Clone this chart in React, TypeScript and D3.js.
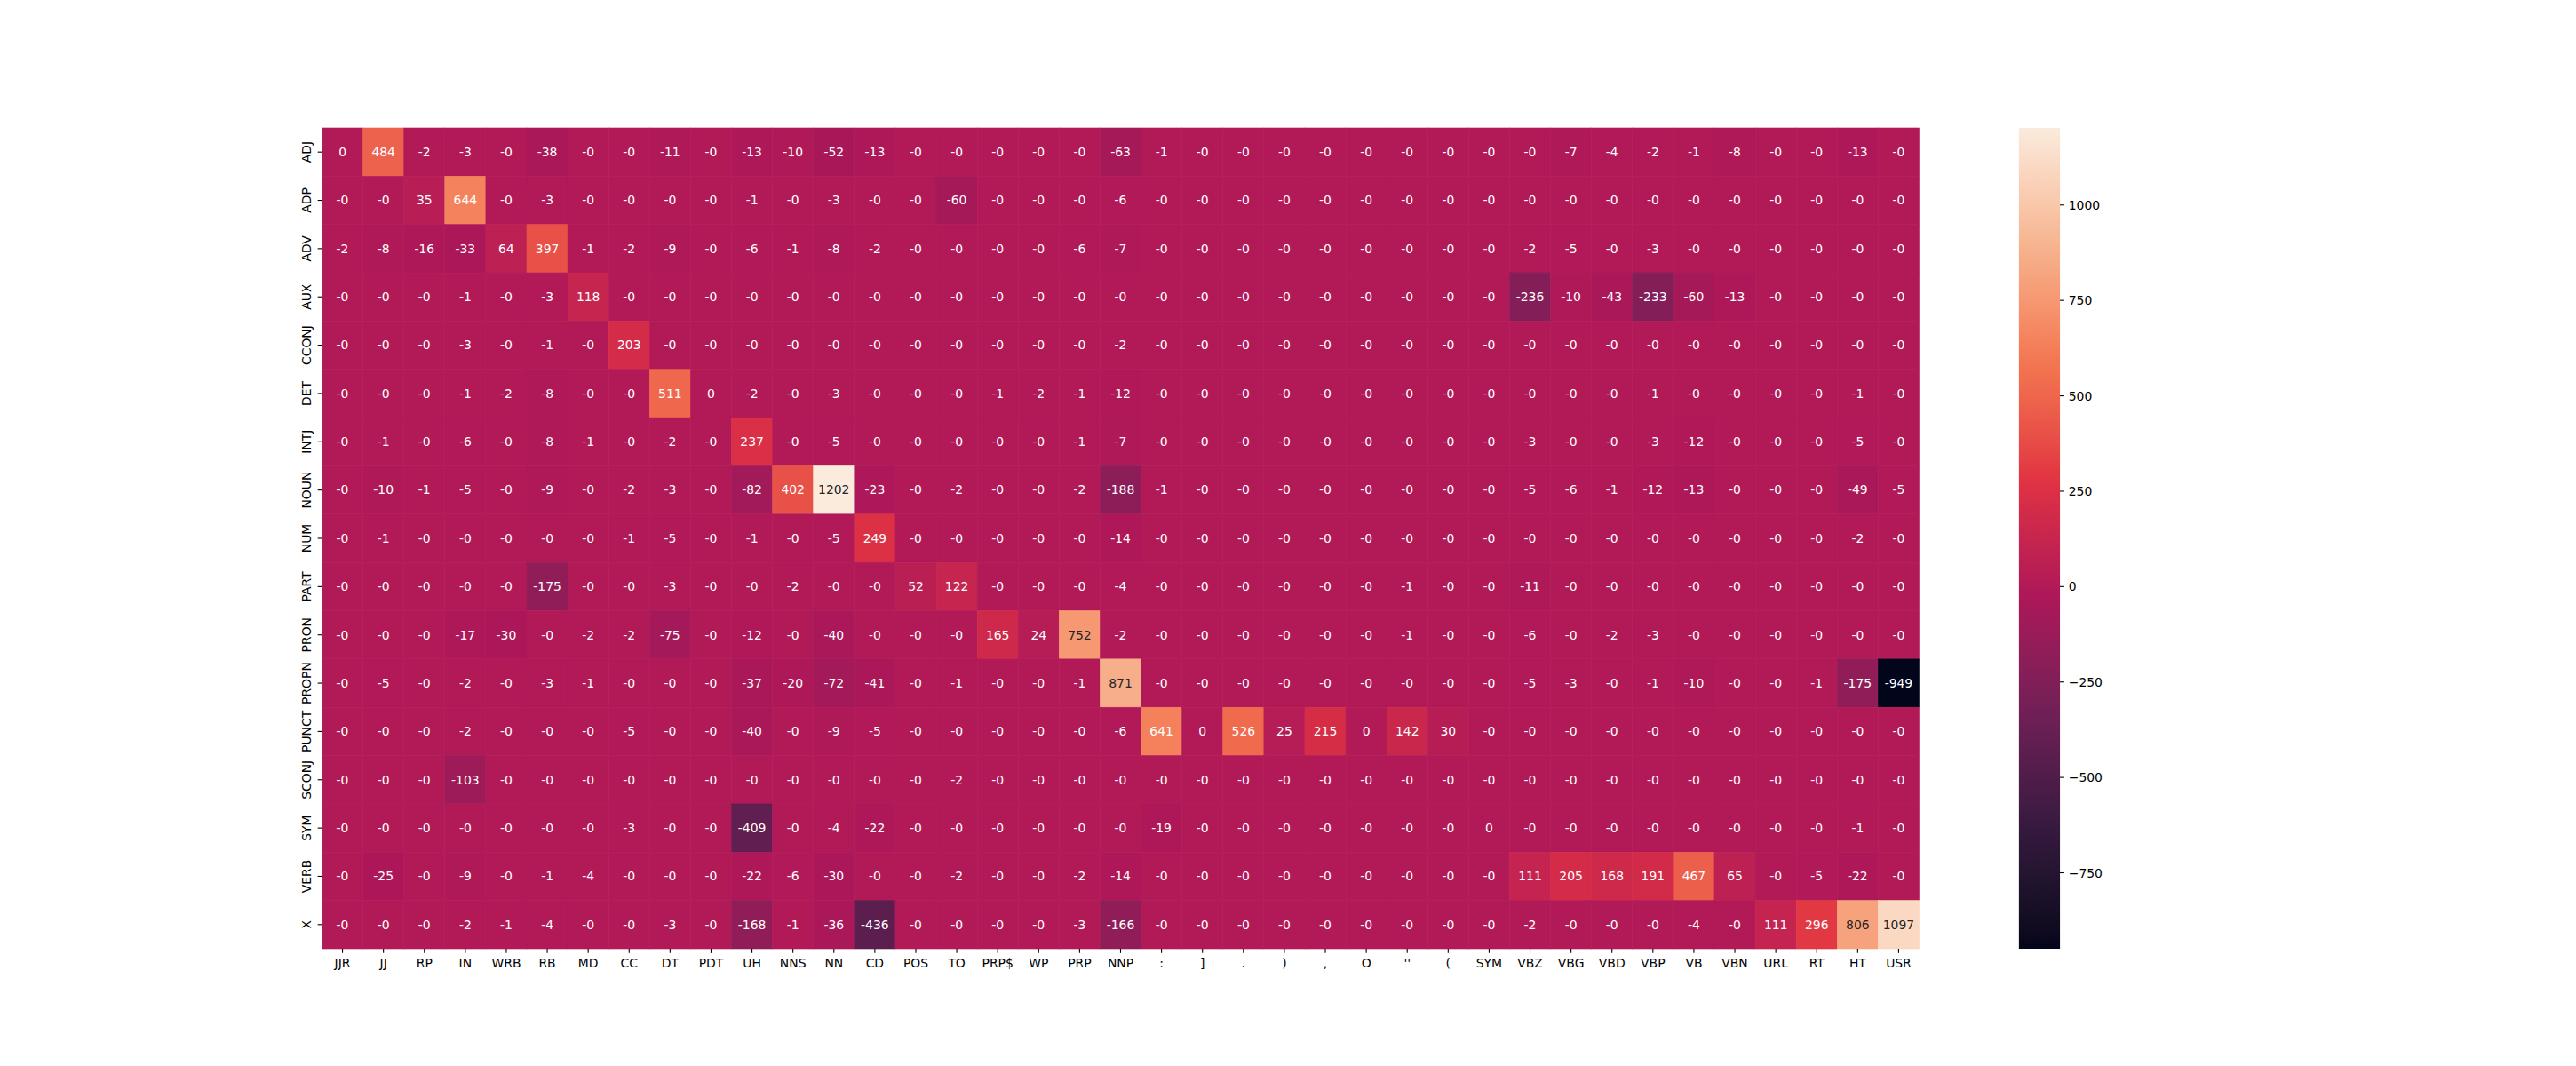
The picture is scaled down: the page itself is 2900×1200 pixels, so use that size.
import React from "react";
import * as d3 from "d3";

const rowLabels = ["ADJ", "ADP", "ADV", "AUX", "CCONJ", "DET", "INTJ", "NOUN", "NUM", "PART", "PRON", "PROPN", "PUNCT", "SCONJ", "SYM", "VERB", "X"];
const colLabels = ["JJR", "JJ", "RP", "IN", "WRB", "RB", "MD", "CC", "DT", "PDT", "UH", "NNS", "NN", "CD", "POS", "TO", "PRP$", "WP", "PRP", "NNP", ":", "]", ".", ")", ",", "O", "''", "(", "SYM", "VBZ", "VBG", "VBD", "VBP", "VB", "VBN", "URL", "RT", "HT", "USR"];

// z: a small negative value shown as "-0"
const z = -0.1;

const ADJ = [0, 484, -2, -3, z, -38, z, z, -11, z, -13, -10, -52, -13, z, z, z, z, z, -63, -1, z, z, z, z, z, z, z, z, z, -7, -4, -2, -1, -8, z, z, -13, z];
const ADP = [z, z, 35, 644, z, -3, z, z, z, z, -1, z, -3, z, z, -60, z, z, z, -6, z, z, z, z, z, z, z, z, z, z, z, z, z, z, z, z, z, z, z];
const ADV = [-2, -8, -16, -33, 64, 397, -1, -2, -9, z, -6, -1, -8, -2, z, z, z, z, -6, -7, z, z, z, z, z, z, z, z, z, -2, -5, z, -3, z, z, z, z, z, z];
const AUX = [z, z, z, -1, z, -3, 118, z, z, z, z, z, z, z, z, z, z, z, z, z, z, z, z, z, z, z, z, z, z, -236, -10, -43, -233, -60, -13, z, z, z, z];
const CCONJ = [z, z, z, -3, z, -1, z, 203, z, z, z, z, z, z, z, z, z, z, z, -2, z, z, z, z, z, z, z, z, z, z, z, z, z, z, z, z, z, z, z];
const DET = [z, z, z, -1, -2, -8, z, z, 511, 0, -2, z, -3, z, z, z, -1, -2, -1, -12, z, z, z, z, z, z, z, z, z, z, z, z, -1, z, z, z, z, -1, z];
const INTJ = [z, -1, z, -6, z, -8, -1, z, -2, z, 237, z, -5, z, z, z, z, z, -1, -7, z, z, z, z, z, z, z, z, z, -3, z, z, -3, -12, z, z, z, -5, z];
const NOUN = [z, -10, -1, -5, z, -9, z, -2, -3, z, -82, 402, 1202, -23, z, -2, z, z, -2, -188, -1, z, z, z, z, z, z, z, z, -5, -6, -1, -12, -13, z, z, z, -49, -5];
const NUM = [z, -1, z, z, z, z, z, -1, -5, z, -1, z, -5, 249, z, z, z, z, z, -14, z, z, z, z, z, z, z, z, z, z, z, z, z, z, z, z, z, -2, z];
const PART = [z, z, z, z, z, -175, z, z, -3, z, z, -2, z, z, 52, 122, z, z, z, -4, z, z, z, z, z, z, -1, z, z, -11, z, z, z, z, z, z, z, z, z];
const PRON = [z, z, z, -17, -30, z, -2, -2, -75, z, -12, z, -40, z, z, z, 165, 24, 752, -2, z, z, z, z, z, z, -1, z, z, -6, z, -2, -3, z, z, z, z, z, z];
const PROPN = [z, -5, z, -2, z, -3, -1, z, z, z, -37, -20, -72, -41, z, -1, z, z, -1, 871, z, z, z, z, z, z, z, z, z, -5, -3, z, -1, -10, z, z, -1, -175, -949];
const PUNCT = [z, z, z, -2, z, z, z, -5, z, z, -40, z, -9, -5, z, z, z, z, z, -6, 641, 0, 526, 25, 215, 0, 142, 30, z, z, z, z, z, z, z, z, z, z, z];
const SCONJ = [z, z, z, -103, z, z, z, z, z, z, z, z, z, z, z, -2, z, z, z, z, z, z, z, z, z, z, z, z, z, z, z, z, z, z, z, z, z, z, z];
const SYM = [z, z, z, z, z, z, z, -3, z, z, -409, z, -4, -22, z, z, z, z, z, z, -19, z, z, z, z, z, z, z, 0, z, z, z, z, z, z, z, z, -1, z];
const VERB = [z, -25, z, -9, z, -1, -4, z, z, z, -22, -6, -30, z, z, -2, z, z, -2, -14, z, z, z, z, z, z, z, z, z, 111, 205, 168, 191, 467, 65, z, -5, -22, z];
const X = [z, z, z, -2, -1, -4, z, z, -3, z, -168, -1, -36, -436, z, z, z, z, -3, -166, z, z, z, z, z, z, z, z, z, -2, z, z, z, -4, z, 111, 296, 806, 1097];

const matrix = [ADJ, ADP, ADV, AUX, CCONJ, DET, INTJ, NOUN, NUM, PART, PRON, PROPN, PUNCT, SCONJ, SYM, VERB, X];

const cbarTicks = [-750, -500, -250, 0, 250, 500, 750, 1000];

// seaborn "rocket" colormap key stops
const rocketPos = [0, 1 / 7, 2 / 7, 3 / 7, 4 / 7, 5 / 7, 6 / 7, 1];
const rocketHex = ["#03051a", "#35193e", "#701f57", "#ad1759", "#e13342", "#f37651", "#f6b48f", "#faebdd"];

const W = 2900;
const H = 1200;
const FONT = "DejaVu Sans, Verdana, sans-serif";
const FS = 13.9;

function relLum(c: string) {
  const rgb = d3.rgb(c);
  const f = (v: number) => {
    const s = v / 255;
    return s <= 0.03928 ? s / 12.92 : Math.pow((s + 0.055) / 1.055, 2.4);
  };
  return 0.2126 * f(rgb.r) + 0.7152 * f(rgb.g) + 0.0722 * f(rgb.b);
}

function fmt(v: number) {
  const r = Math.round(Math.abs(v));
  return (v < 0 ? "-" : "") + String(r);
}

export default function App() {
  const left = 0.125 * W;
  const top = 0.12 * H;
  const bottom = 0.89 * H;
  const figRight = 0.9 * W;
  const avail = figRight - left;
  const right = left + 0.8 * avail;
  const plotH = bottom - top;

  const all = matrix.flat();
  const [vmin, vmax] = d3.extent(all) as [number, number];

  const rocket = d3
    .scaleLinear<string>()
    .domain(rocketPos)
    .range(rocketHex)
    .interpolate(d3.interpolateLab);
  const color = (v: number) => rocket((v - vmin) / (vmax - vmin));

  const x = d3.scaleBand<string>().domain(colLabels).range([left, right]).padding(0);
  const y = d3.scaleBand<string>().domain(rowLabels).range([top, bottom]).padding(0);

  const cbX = right + 0.05 * avail;
  const cbW = plotH / 20;
  const cbY = d3.scaleLinear().domain([vmin, vmax]).range([bottom, top]);

  const gradStops = d3.range(0, 65).map((i) => i / 64);

  const tickLen = 4.86;
  const pad = 4.86;

  return (
    <svg
      width={W}
      height={H}
      style={{ position: "absolute", left: 0, top: 0, background: "#fff" }}
      fontFamily={FONT}
    >
      <defs>
        <linearGradient id="cbar" x1="0" y1="1" x2="0" y2="0">
          {gradStops.map((t) => (
            <stop key={t} offset={t} stopColor={rocket(t)} />
          ))}
        </linearGradient>
      </defs>
      <rect x={0} y={0} width={W} height={H} fill="#fff" />
      <g>
        {matrix.map((row, ri) =>
          row.map((v, ci) => {
            const c = color(v);
            return (
              <rect
                key={`c${ri}-${ci}`}
                x={x(colLabels[ci])}
                y={y(rowLabels[ri])}
                width={x.bandwidth()}
                height={y.bandwidth()}
                fill={c}
                stroke={c}
                strokeWidth={0.6}
              />
            );
          })
        )}
      </g>
      <g>
        {matrix.map((row, ri) =>
          row.map((v, ci) => {
            const c = color(v);
            const tc = relLum(c) > 0.408 ? "#262626" : "#ffffff";
            return (
              <text
                key={`t${ri}-${ci}`}
                x={(x(colLabels[ci]) as number) + x.bandwidth() / 2}
                y={(y(rowLabels[ri]) as number) + y.bandwidth() / 2 + 4.8}
                textAnchor="middle"
                fontSize={FS}
                fill={tc}
              >
                {fmt(v)}
              </text>
            );
          })
        )}
      </g>
      {/* x axis */}
      <g>
        {colLabels.map((c) => {
          const cx = (x(c) as number) + x.bandwidth() / 2;
          return (
            <g key={`x${c}`}>
              <line x1={cx} x2={cx} y1={bottom} y2={bottom + tickLen} stroke="#000" strokeWidth={1.1} />
              <text x={cx} y={bottom + tickLen + pad + 10.8} textAnchor="middle" fontSize={FS} fill="#000">
                {c}
              </text>
            </g>
          );
        })}
      </g>
      {/* y axis */}
      <g>
        {rowLabels.map((r) => {
          const cy = (y(r) as number) + y.bandwidth() / 2;
          return (
            <g key={`y${r}`}>
              <line x1={left - tickLen} x2={left} y1={cy} y2={cy} stroke="#000" strokeWidth={1.1} />
              <text
                transform={`translate(${left - tickLen - pad - 3.2},${cy}) rotate(-90)`}
                textAnchor="middle"
                fontSize={FS}
                fill="#000"
              >
                {r}
              </text>
            </g>
          );
        })}
      </g>
      {/* colorbar */}
      <rect x={cbX} y={top} width={cbW} height={plotH} fill="url(#cbar)" />
      <g>
        {cbarTicks.map((t) => {
          const ty = cbY(t);
          return (
            <g key={`cb${t}`}>
              <line x1={cbX + cbW} x2={cbX + cbW + tickLen} y1={ty} y2={ty} stroke="#000" strokeWidth={1.1} />
              <text x={cbX + cbW + tickLen + pad} y={ty + 5} fontSize={FS} fill="#000">
                {t < 0 ? "\u2212" + Math.abs(t) : String(t)}
              </text>
            </g>
          );
        })}
      </g>
    </svg>
  );
}
